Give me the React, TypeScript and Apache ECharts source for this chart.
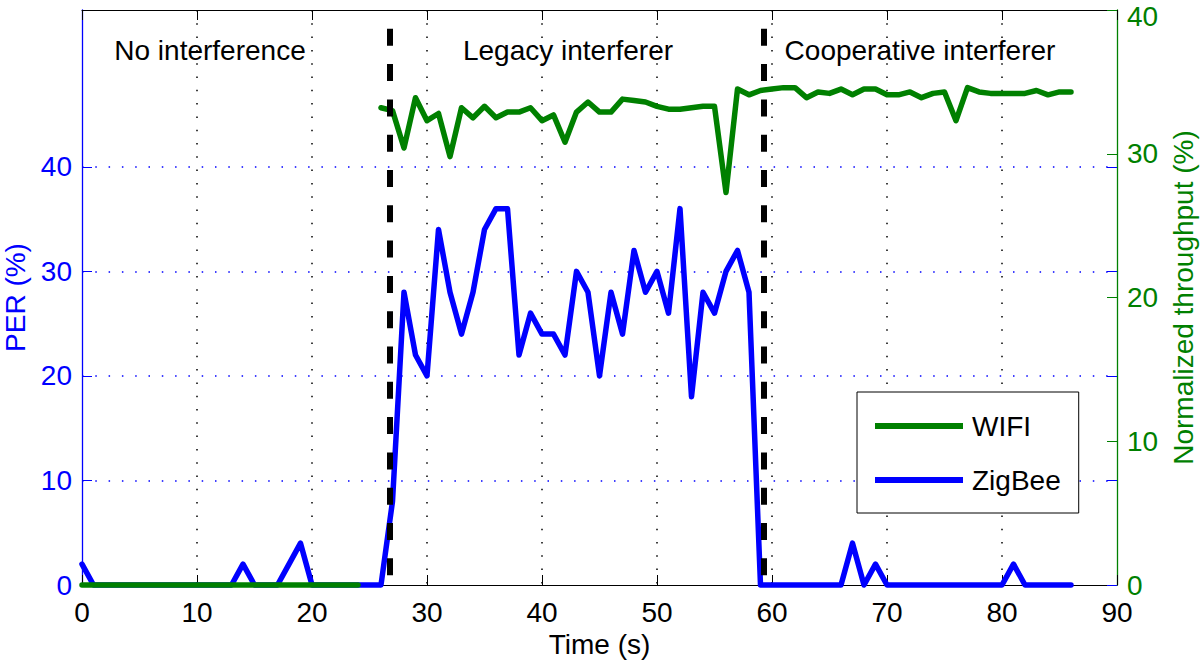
import React, { useEffect, useRef } from "react";
import * as echarts from "echarts";

// ---- data ----
const timeS = [
  0, 1, 2, 3, 4, 5, 6, 7, 8, 9, 10, 11, 12, 13, 14, 15, 16, 17, 18, 19, 20,
  21, 22, 23, 24, 25, 26, 27, 28, 29, 30, 31, 32, 33, 34, 35, 36, 37, 38, 39,
  40, 41, 42, 43, 44, 45, 46, 47, 48, 49, 50, 51, 52, 53, 54, 55, 56, 57, 58,
  59, 60, 61, 62, 63, 64, 65, 66, 67, 68, 69, 70, 71, 72, 73, 74, 75, 76, 77,
  78, 79, 80, 81, 82, 83, 84, 85, 86,
];

const zigbeePER = [
  2, 0, 0, 0, 0, 0, 0, 0, 0, 0, 0, 0, 0, 0, 2, 0, 0, 0, 2, 4, 0,
  0, 0, 0, 0, 0, 0, 8, 28, 22, 20, 34, 28, 24, 28, 34, 36, 36, 22, 26,
  24, 24, 22, 30, 28, 20, 28, 24, 32, 28, 30, 26, 36, 18, 28, 26, 30, 32, 28,
  0, 0, 0, 0, 0, 0, 0, 0, 4, 0, 2, 0, 0, 0, 0, 0, 0, 0, 0,
  0, 0, 0, 2, 0, 0, 0, 0, 0,
];

const wifiThroughput: (number | null)[] = [
  0, 0, 0, 0, 0, 0, 0, 0, 0, 0, 0, 0, 0, 0, 0, 0, 0, 0, 0, 0, 0,
  0, 0, 0, 0, null, 33.2, 33.0, 30.4, 33.9, 32.3, 32.8, 29.8, 33.2, 32.5, 33.3, 32.5, 32.9, 32.9, 33.2,
  32.3, 32.7, 30.8, 32.9, 33.6, 32.9, 32.9, 33.8, 33.7, 33.6, 33.3, 33.1, 33.1, 33.2, 33.3, 33.3, 27.3, 34.5, 34.1,
  34.4, 34.5, 34.6, 34.6, 33.9, 34.3, 34.2, 34.5, 34.1, 34.5, 34.5, 34.1, 34.1, 34.3, 33.9, 34.2, 34.3, 32.3, 34.6,
  34.3, 34.2, 34.2, 34.2, 34.2, 34.4, 34.1, 34.3, 34.3,
];

const xTicks = [0, 10, 20, 30, 40, 50, 60, 70, 80, 90];
const perTicks = [0, 10, 20, 30, 40];
const throughputTicks = [0, 10, 20, 30, 40];

// phase boundaries (s) and the top of the boundary lines (PER units)
const phaseBoundaries = [26.76, 59.28];
const boundaryTop = 53.2;

const phaseLabels = ["No interference", "Legacy interferer", "Cooperative interferer"];
const legendNames = ["WIFI", "ZigBee"];

const BLUE = "#0000ff";
const GREEN = "#008000";
const FONT = "'Liberation Sans', Arial, Helvetica, sans-serif";
const FS = 28;

export default function App() {
  const ref = useRef<HTMLDivElement>(null);

  useEffect(() => {
    if (!ref.current) return;
    const chart = echarts.init(ref.current, undefined, { renderer: "svg" });

    const zigData = timeS.map((t, i) => [t, zigbeePER[i]]);
    const wifiData = timeS.map((t, i) => [t, wifiThroughput[i] === null ? "-" : wifiThroughput[i]]);
    const topThroughput = throughputTicks[throughputTicks.length - 1];

    const option: any = {
      animation: false,
      backgroundColor: "#fff",
      textStyle: { fontFamily: FONT },
      grid: { left: 82, right: 83, top: 10, bottom: 77, containLabel: false, outerBoundsMode: "none" },
      legend: {
        data: legendNames,
        orient: "vertical",
        left: 857,
        top: 392,
        padding: [20, 18, 19, 18],
        itemGap: 26,
        itemWidth: 88,
        itemHeight: 6,
        icon: "rect",
        backgroundColor: "#fff",
        borderColor: "#000",
        borderWidth: 1,
        borderRadius: 0,
        textStyle: { fontSize: FS, color: "#000", fontFamily: FONT, padding: [0, 0, 0, 4] },
      },
      xAxis: [
        {
          type: "value",
          min: xTicks[0],
          max: xTicks[xTicks.length - 1],
          interval: 10,
          name: "Time (s)",
          nameLocation: "middle",
          nameGap: 45,
          nameTextStyle: { fontSize: FS, color: "#000", fontFamily: FONT },
          axisLine: { show: true, onZero: false, lineStyle: { color: "#000", width: 1 } },
          axisTick: { show: true, inside: true, length: 10, lineStyle: { color: "#000" } },
          axisLabel: { fontSize: FS, color: "#000", margin: 13, fontFamily: FONT },
          splitLine: {
            show: true,
            showMinLine: false,
            showMaxLine: false,
            lineStyle: { color: "#000", width: 1.5, type: [1.5, 11.8] },
          },
        },
        {
          type: "value",
          position: "top",
          min: xTicks[0],
          max: xTicks[xTicks.length - 1],
          interval: 10,
          axisLine: { show: true, onZero: false, lineStyle: { color: "#000", width: 1 } },
          axisTick: { show: true, inside: true, length: 10, lineStyle: { color: "#000" } },
          axisLabel: { show: false },
          splitLine: { show: false },
        },
      ],
      yAxis: [
        {
          type: "value",
          position: "left",
          min: 0,
          max: 55,
          interval: 10,
          name: "PER (%)",
          nameLocation: "middle",
          nameGap: 52,
          nameRotate: 90,
          nameTextStyle: { fontSize: FS, color: BLUE, fontFamily: FONT, lineHeight: 24 },
          axisLine: { show: true, onZero: false, lineStyle: { color: BLUE, width: 1.3 } },
          axisTick: { show: true, inside: true, length: 10, customValues: perTicks, lineStyle: { color: BLUE } },
          axisLabel: { fontSize: FS, color: BLUE, margin: 10, lineHeight: 20, customValues: perTicks, fontFamily: FONT },
          splitLine: {
            show: true,
            showMinLine: false,
            lineStyle: {
              color: [BLUE, BLUE, BLUE, BLUE, BLUE, "rgba(0,0,0,0)", "rgba(0,0,0,0)"],
              width: 1.5,
              type: [1.5, 11.8],
            },
          },
        },
        {
          type: "value",
          position: "right",
          min: 0,
          max: 40,
          interval: 10,
          name: "Normalized throughput (%)",
          nameLocation: "middle",
          nameGap: 52,
          nameRotate: 90,
          nameTextStyle: { fontSize: FS, color: GREEN, fontFamily: FONT },
          axisLine: { show: true, onZero: false, lineStyle: { color: GREEN, width: 1.3 } },
          axisTick: { show: true, inside: true, length: 10, customValues: throughputTicks, lineStyle: { color: GREEN } },
          axisLabel: {
            fontSize: FS,
            color: GREEN,
            margin: 10,
            lineHeight: 20,
            customValues: throughputTicks,
            fontFamily: FONT,
            formatter: (v: number) => (v === topThroughput ? `{hi|${v}}` : `${v}`),
            rich: {
              hi: { fontSize: FS, color: GREEN, fontFamily: FONT, lineHeight: 20, padding: [12, 0, 0, 0] },
            },
          },
          splitLine: { show: false },
        },
        {
          type: "value",
          position: "right",
          min: 0,
          max: 55,
          interval: 10,
          axisLine: { show: false, onZero: false },
          axisTick: { show: true, inside: true, length: 10, customValues: perTicks, lineStyle: { color: BLUE } },
          axisLabel: { show: false, customValues: perTicks },
          splitLine: { show: false },
        },
      ],
      series: [
        {
          name: "ZigBee",
          type: "line",
          xAxisIndex: 0,
          yAxisIndex: 0,
          data: zigData,
          symbol: "none",
          showSymbol: false,
          clip: false,
          lineStyle: { color: BLUE, width: 5.5, join: "round", cap: "round" },
          itemStyle: { color: BLUE },
          markLine: {
            silent: true,
            symbol: "none",
            label: { show: false },
            lineStyle: { color: "#000", width: 6, type: [17, 18.3] },
            emphasis: { disabled: true },
            data: phaseBoundaries.map((b) => [
              { coord: [b, boundaryTop] },
              { coord: [b, 0] },
            ]),
          },
          z: 2,
        },
        {
          name: "WIFI",
          type: "line",
          xAxisIndex: 0,
          yAxisIndex: 1,
          data: wifiData,
          symbol: "none",
          showSymbol: false,
          connectNulls: false,
          clip: false,
          lineStyle: { color: GREEN, width: 5.5, join: "round", cap: "round" },
          itemStyle: { color: GREEN },
          z: 3,
        },
      ],
      graphic: [
        { type: "text", x: 210, y: 50, style: { text: phaseLabels[0], font: `${FS}px ${FONT}`, fill: "#000", align: "center", verticalAlign: "middle" } },
        { type: "text", x: 568, y: 50, style: { text: phaseLabels[1], font: `${FS}px ${FONT}`, fill: "#000", align: "center", verticalAlign: "middle" } },
        { type: "text", x: 920, y: 50, style: { text: phaseLabels[2], font: `${FS}px ${FONT}`, fill: "#000", align: "center", verticalAlign: "middle" } },
      ],
    };

    chart.setOption(option);
    return () => chart.dispose();
  }, []);

  return (
    <div
      ref={ref}
      style={{ position: "fixed", left: 0, top: 0, width: 1200, height: 662, background: "#fff" }}
    />
  );
}
